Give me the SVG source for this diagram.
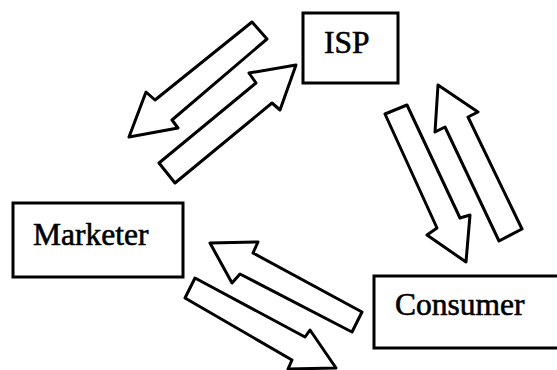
<svg xmlns="http://www.w3.org/2000/svg" width="557" height="370" viewBox="0 0 557 370">
  <style>
    .box { fill: #ffffff; stroke: #000000; stroke-width: 3; }
    .label { font-family: "Liberation Serif", "Times New Roman", serif; font-size: 31.5px; fill: #000000; stroke: #000000; stroke-width: 0.6; }
    .arrow { fill: #ffffff; stroke: #000000; stroke-width: 3; stroke-linejoin: round; }
  </style>
  <rect width="557" height="370" fill="#ffffff"/>

  <!-- block arrows between the three parties -->
  <g id="connectors">
    <!-- ISP to Marketer -->
    <polygon id="isp-to-marketer" class="arrow" points="252,22 155,100 146,92 129,137 178,128 172,120 267,39"/>
    <!-- Marketer to ISP -->
    <polygon id="marketer-to-isp" class="arrow" points="159,163 256,83 249,73 296,65 280,110 272,103 175,183"/>
    <!-- ISP to Consumer -->
    <polygon id="isp-to-consumer" class="arrow" points="385,114 437,228 427,235 466,262 470,215 460,218 407,105"/>
    <!-- Consumer to ISP -->
    <polygon id="consumer-to-isp" class="arrow" points="438,85 478,112 468,117 522,229 499,241 445,127 435,132"/>
    <!-- Consumer to Marketer -->
    <polygon id="consumer-to-marketer" class="arrow" points="210,243 258,242 253,253 362,312 352,332 240,274 232,283"/>
    <!-- Marketer to Consumer -->
    <polygon id="marketer-to-consumer" class="arrow" points="195,278 305,337 310,330 336,368 288,369 292,360 185,298"/>
  </g>

  <g id="isp">
    <rect class="box" x="303" y="13" width="95" height="70"/>
    <text class="label" x="324" y="53">ISP</text>
  </g>

  <g id="marketer">
    <rect class="box" x="13" y="203" width="170" height="74"/>
    <text class="label" x="33" y="245">Marketer</text>
  </g>

  <g id="consumer">
    <rect class="box" x="374" y="276" width="200" height="72"/>
    <text class="label" x="395" y="315">Consumer</text>
  </g>
</svg>
